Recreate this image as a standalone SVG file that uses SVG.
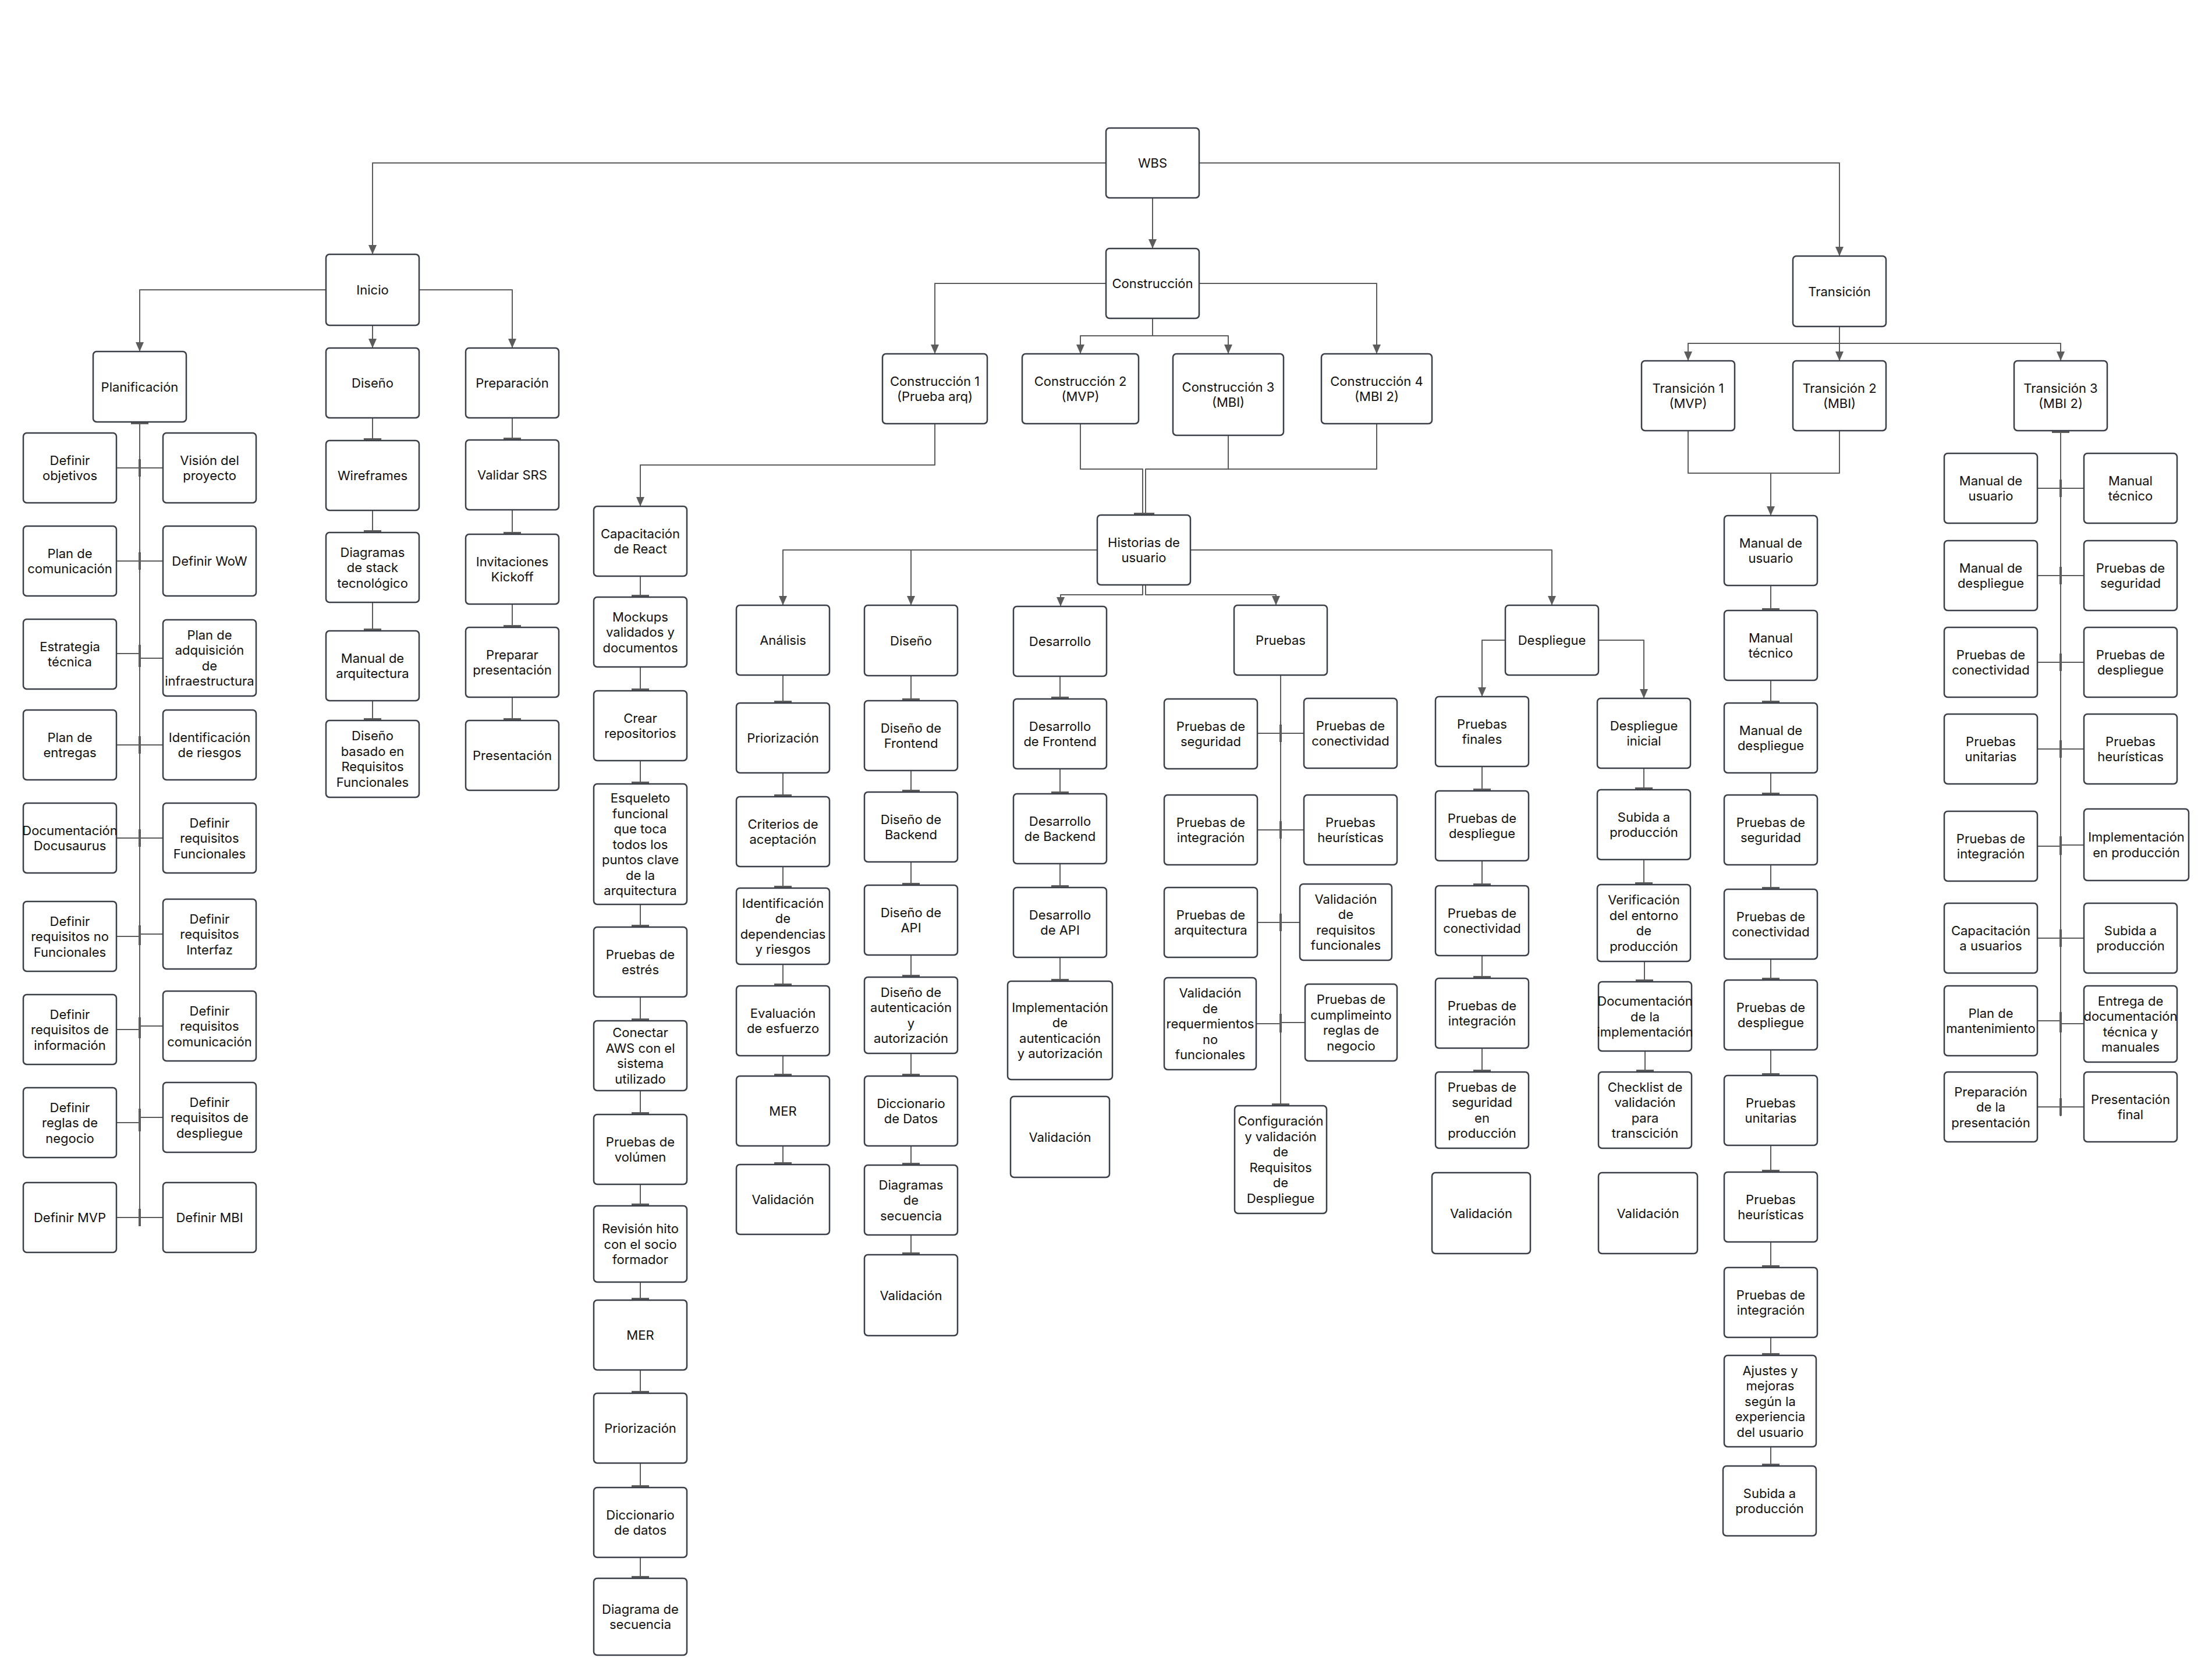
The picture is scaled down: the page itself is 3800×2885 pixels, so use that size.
<svg xmlns="http://www.w3.org/2000/svg" width="3800" height="2885" viewBox="0 0 3800 2885">
<defs>
<style>
.node rect{fill:#fff;stroke:#3a3f47;stroke-width:2.5}
.node text{font-family:Inter,"Liberation Sans",sans-serif;font-size:22px;fill:#111;text-anchor:middle}
.edge{fill:none;stroke:#5c5c5c;stroke-width:2;stroke-linejoin:round}
.arr{marker-end:url(#arrow)}
.tee{marker-end:url(#tee)}
</style>
<marker id="arrow" markerWidth="16" markerHeight="14" refX="16" refY="7" orient="auto" markerUnits="userSpaceOnUse"><path d="M0,0 L16,7 L0,14 z" fill="#5c5c5c"/></marker>
<marker id="tee" markerWidth="4" markerHeight="30" refX="2" refY="15" orient="auto" markerUnits="userSpaceOnUse"><rect x="0" y="0" width="4" height="30" fill="#5c5c5c"/></marker>
</defs>
<rect width="3800" height="2885" fill="#fff"/>
<g id="connectors">
<path class="edge arr" d="M1900,280 H640 V437"/>
<path class="edge arr" d="M1980,340 V427"/>
<path class="edge arr" d="M2060,280 H3160 V440"/>
<path class="edge arr" d="M560,498 H240 V604"/>
<path class="edge arr" d="M640,559 V598"/>
<path class="edge arr" d="M720,498 H880 V598"/>
<path class="edge tee" d="M240,2106 V727"/>
<path class="edge tee" d="M200,804 H240"/><path class="edge tee" d="M280,804 H240"/>
<path class="edge tee" d="M200,964 H240"/><path class="edge tee" d="M280,964 H240"/>
<path class="edge tee" d="M200,1123 H240"/><path class="edge tee" d="M280,1131 H240"/>
<path class="edge tee" d="M200,1280 H240"/><path class="edge tee" d="M280,1280 H240"/>
<path class="edge tee" d="M200,1440 H240"/><path class="edge tee" d="M280,1440 H240"/>
<path class="edge tee" d="M200,1609 H240"/><path class="edge tee" d="M280,1605 H240"/>
<path class="edge tee" d="M200,1769 H240"/><path class="edge tee" d="M280,1763 H240"/>
<path class="edge tee" d="M200,1929 H240"/><path class="edge tee" d="M280,1920 H240"/>
<path class="edge tee" d="M200,2092 H240"/><path class="edge tee" d="M280,2092 H240"/>
<path class="edge tee" d="M640,718 V755"/><path class="edge tee" d="M640,876 V913"/><path class="edge tee" d="M640,1035 V1082"/><path class="edge tee" d="M640,1204 V1236"/>
<path class="edge tee" d="M880,718 V754"/><path class="edge tee" d="M880,876 V916"/><path class="edge tee" d="M880,1038 V1076"/><path class="edge tee" d="M880,1198 V1236"/>
<path class="edge arr" d="M1900,487 H1606 V608"/>
<path class="edge arr" d="M1980,547 V577 H1856 V608"/>
<path class="edge arr" d="M1980,577 H2110 V608"/>
<path class="edge arr" d="M2060,487 H2365 V608"/>
<path class="edge arr" d="M1606,728 V799 H1100 V870"/>
<path class="edge tee" d="M1100,990 V1024"/><path class="edge tee" d="M1100,1146 V1185"/><path class="edge tee" d="M1100,1307 V1345"/><path class="edge tee" d="M1100,1554 V1591"/><path class="edge tee" d="M1100,1713 V1752"/><path class="edge tee" d="M1100,1874 V1913"/><path class="edge tee" d="M1100,2035 V2070"/><path class="edge tee" d="M1100,2203 V2232"/><path class="edge tee" d="M1100,2354 V2392"/><path class="edge tee" d="M1100,2514 V2554"/><path class="edge tee" d="M1100,2676 V2710"/>
<path class="edge tee" d="M1856,728 V806 H1963 V883"/>
<path class="edge tee" d="M2110,748 V806 H1968 V883"/>
<path class="edge" d="M2365,728 V806 H2110"/>
<path class="edge arr" d="M1885,945 H1345 V1040"/>
<path class="edge arr" d="M1565,945 V1040"/>
<path class="edge arr" d="M2045,945 H2666 V1040"/>
<path class="edge arr" d="M1963,1005 V1022 H1822 V1042"/>
<path class="edge arr" d="M1968,1005 V1022 H2192 V1040"/>
<path class="edge tee" d="M1345,1160 V1206"/><path class="edge tee" d="M1345,1328 V1367"/><path class="edge tee" d="M1345,1489 V1524"/><path class="edge tee" d="M1345,1657 V1692"/><path class="edge tee" d="M1345,1814 V1847"/><path class="edge tee" d="M1345,1969 V1999"/>
<path class="edge tee" d="M1565,1161 V1202"/><path class="edge tee" d="M1565,1324 V1359"/><path class="edge tee" d="M1565,1481 V1519"/><path class="edge tee" d="M1565,1641 V1677"/><path class="edge tee" d="M1565,1810 V1847"/><path class="edge tee" d="M1565,1969 V2000"/><path class="edge tee" d="M1565,2122 V2154"/>
<path class="edge tee" d="M1821,1162 V1199"/><path class="edge tee" d="M1821,1321 V1362"/><path class="edge tee" d="M1821,1484 V1523"/><path class="edge tee" d="M1821,1645 V1684"/>
<path class="edge tee" d="M2200,1160 V1898"/>
<path class="edge tee" d="M2160,1260 H2200"/><path class="edge tee" d="M2240,1260 H2200"/>
<path class="edge tee" d="M2160,1426 H2200"/><path class="edge tee" d="M2240,1426 H2200"/>
<path class="edge tee" d="M2160,1585 H2200"/><path class="edge tee" d="M2233,1585 H2200"/>
<path class="edge tee" d="M2158,1759 H2200"/><path class="edge tee" d="M2242,1757 H2200"/>
<path class="edge arr" d="M2586,1100 H2546 V1197"/>
<path class="edge arr" d="M2746,1100 H2824 V1200"/>
<path class="edge tee" d="M2546,1317 V1357"/><path class="edge tee" d="M2546,1479 V1520"/><path class="edge tee" d="M2546,1642 V1679"/><path class="edge tee" d="M2546,1801 V1840"/>
<path class="edge tee" d="M2824,1320 V1355"/><path class="edge tee" d="M2824,1477 V1518"/><path class="edge tee" d="M2825,1652 V1685"/><path class="edge tee" d="M2826,1806 V1840"/>
<path class="edge arr" d="M3160,561 V590 H2900 V620"/>
<path class="edge arr" d="M3160,590 V620"/>
<path class="edge arr" d="M3160,590 H3540 V620"/>
<path class="edge arr" d="M2900,740 V813 H3042 V886"/>
<path class="edge" d="M3160,740 V813 H3042"/>
<path class="edge tee" d="M3042,1006 V1047"/><path class="edge tee" d="M3042,1169 V1206"/><path class="edge tee" d="M3042,1328 V1364"/><path class="edge tee" d="M3042,1486 V1526"/><path class="edge tee" d="M3042,1648 V1682"/><path class="edge tee" d="M3042,1804 V1846"/><path class="edge tee" d="M3042,1968 V2012"/><path class="edge tee" d="M3042,2134 V2176"/><path class="edge tee" d="M3042,2298 V2327"/><path class="edge tee" d="M3042,2486 V2517"/>
<path class="edge tee" d="M3540,1918 V742"/>
<path class="edge tee" d="M3500,839 H3540"/><path class="edge tee" d="M3580,839 H3540"/>
<path class="edge tee" d="M3500,989 H3540"/><path class="edge tee" d="M3580,989 H3540"/>
<path class="edge tee" d="M3500,1138 H3540"/><path class="edge tee" d="M3580,1138 H3540"/>
<path class="edge tee" d="M3500,1287 H3540"/><path class="edge tee" d="M3580,1287 H3540"/>
<path class="edge tee" d="M3500,1454 H3540"/><path class="edge tee" d="M3580,1452 H3540"/>
<path class="edge tee" d="M3500,1612 H3540"/><path class="edge tee" d="M3580,1612 H3540"/>
<path class="edge tee" d="M3500,1754 H3540"/><path class="edge tee" d="M3580,1759 H3540"/>
<path class="edge tee" d="M3500,1902 H3540"/><path class="edge tee" d="M3580,1902 H3540"/>
</g>
<g id="n-wbs" class="node"><rect x="1900" y="220" width="160" height="120" rx="6"/><text><tspan x="1980" y="288">WBS</tspan></text></g>
<g id="n-inicio" class="node"><rect x="560" y="437" width="160" height="122" rx="6"/><text><tspan x="640" y="506">Inicio</tspan></text></g>
<g id="n-construccion" class="node"><rect x="1900" y="427" width="160" height="120" rx="6"/><text><tspan x="1980" y="495">Construcción</tspan></text></g>
<g id="n-transicion" class="node"><rect x="3080" y="440" width="160" height="121" rx="6"/><text><tspan x="3160" y="508.5">Transición</tspan></text></g>
<g id="n-planificacion" class="node"><rect x="160" y="604" width="160" height="121" rx="6"/><text><tspan x="240" y="672.5">Planificación</tspan></text></g>
<g id="n-diseno-inicio" class="node"><rect x="560" y="598" width="160" height="120" rx="6"/><text><tspan x="640" y="666">Diseño</tspan></text></g>
<g id="n-preparacion" class="node"><rect x="800" y="598" width="160" height="120" rx="6"/><text><tspan x="880" y="666">Preparación</tspan></text></g>
<g id="n-p1" class="node"><rect x="40" y="744" width="160" height="120" rx="6"/><text><tspan x="120" y="798.8">Definir</tspan><tspan x="120" y="825.3">objetivos</tspan></text></g>
<g id="n-p2" class="node"><rect x="280" y="744" width="160" height="120" rx="6"/><text><tspan x="360" y="798.8">Visión del</tspan><tspan x="360" y="825.3">proyecto</tspan></text></g>
<g id="n-p3" class="node"><rect x="40" y="904" width="160" height="120" rx="6"/><text><tspan x="120" y="958.8">Plan de</tspan><tspan x="120" y="985.3">comunicación</tspan></text></g>
<g id="n-p4" class="node"><rect x="280" y="904" width="160" height="120" rx="6"/><text><tspan x="360" y="972">Definir WoW</tspan></text></g>
<g id="n-p5" class="node"><rect x="40" y="1064" width="160" height="120" rx="6"/><text><tspan x="120" y="1118.8">Estrategia</tspan><tspan x="120" y="1145.3">técnica</tspan></text></g>
<g id="n-p6" class="node"><rect x="280" y="1065" width="160" height="131" rx="6"/><text><tspan x="360" y="1098.8">Plan de</tspan><tspan x="360" y="1125.3">adquisición</tspan><tspan x="360" y="1151.8">de</tspan><tspan x="360" y="1178.3">infraestructura</tspan></text></g>
<g id="n-p7" class="node"><rect x="40" y="1220" width="160" height="120" rx="6"/><text><tspan x="120" y="1274.8">Plan de</tspan><tspan x="120" y="1301.3">entregas</tspan></text></g>
<g id="n-p8" class="node"><rect x="280" y="1220" width="160" height="120" rx="6"/><text><tspan x="360" y="1274.8">Identificación</tspan><tspan x="360" y="1301.3">de riesgos</tspan></text></g>
<g id="n-p9" class="node"><rect x="40" y="1380" width="160" height="120" rx="6"/><text><tspan x="120" y="1434.8">Documentación</tspan><tspan x="120" y="1461.3">Docusaurus</tspan></text></g>
<g id="n-p10" class="node"><rect x="280" y="1380" width="160" height="120" rx="6"/><text><tspan x="360" y="1421.5">Definir</tspan><tspan x="360" y="1448">requisitos</tspan><tspan x="360" y="1474.5">Funcionales</tspan></text></g>
<g id="n-p11" class="node"><rect x="40" y="1549" width="160" height="120" rx="6"/><text><tspan x="120" y="1590.5">Definir</tspan><tspan x="120" y="1617">requisitos no</tspan><tspan x="120" y="1643.5">Funcionales</tspan></text></g>
<g id="n-p12" class="node"><rect x="280" y="1545" width="160" height="120" rx="6"/><text><tspan x="360" y="1586.5">Definir</tspan><tspan x="360" y="1613">requisitos</tspan><tspan x="360" y="1639.5">Interfaz</tspan></text></g>
<g id="n-p13" class="node"><rect x="40" y="1709" width="160" height="120" rx="6"/><text><tspan x="120" y="1750.5">Definir</tspan><tspan x="120" y="1777">requisitos de</tspan><tspan x="120" y="1803.5">información</tspan></text></g>
<g id="n-p14" class="node"><rect x="280" y="1703" width="160" height="120" rx="6"/><text><tspan x="360" y="1744.5">Definir</tspan><tspan x="360" y="1771">requisitos</tspan><tspan x="360" y="1797.5">comunicación</tspan></text></g>
<g id="n-p15" class="node"><rect x="40" y="1869" width="160" height="120" rx="6"/><text><tspan x="120" y="1910.5">Definir</tspan><tspan x="120" y="1937">reglas de</tspan><tspan x="120" y="1963.5">negocio</tspan></text></g>
<g id="n-p16" class="node"><rect x="280" y="1860" width="160" height="120" rx="6"/><text><tspan x="360" y="1901.5">Definir</tspan><tspan x="360" y="1928">requisitos de</tspan><tspan x="360" y="1954.5">despliegue</tspan></text></g>
<g id="n-p17" class="node"><rect x="40" y="2032" width="160" height="120" rx="6"/><text><tspan x="120" y="2100">Definir MVP</tspan></text></g>
<g id="n-p18" class="node"><rect x="280" y="2032" width="160" height="120" rx="6"/><text><tspan x="360" y="2100">Definir MBI</tspan></text></g>
<g id="n-d1" class="node"><rect x="560" y="757" width="160" height="120" rx="6"/><text><tspan x="640" y="825">Wireframes</tspan></text></g>
<g id="n-d2" class="node"><rect x="560" y="915" width="160" height="120" rx="6"/><text><tspan x="640" y="956.5">Diagramas</tspan><tspan x="640" y="983">de stack</tspan><tspan x="640" y="1009.5">tecnológico</tspan></text></g>
<g id="n-d3" class="node"><rect x="560" y="1084" width="160" height="120" rx="6"/><text><tspan x="640" y="1138.8">Manual de</tspan><tspan x="640" y="1165.3">arquitectura</tspan></text></g>
<g id="n-d4" class="node"><rect x="560" y="1238" width="160" height="132" rx="6"/><text><tspan x="640" y="1272.3">Diseño</tspan><tspan x="640" y="1298.8">basado en</tspan><tspan x="640" y="1325.3">Requisitos</tspan><tspan x="640" y="1351.8">Funcionales</tspan></text></g>
<g id="n-r1" class="node"><rect x="800" y="756" width="160" height="120" rx="6"/><text><tspan x="880" y="824">Validar SRS</tspan></text></g>
<g id="n-r2" class="node"><rect x="800" y="918" width="160" height="120" rx="6"/><text><tspan x="880" y="972.8">Invitaciones</tspan><tspan x="880" y="999.3">Kickoff</tspan></text></g>
<g id="n-r3" class="node"><rect x="800" y="1078" width="160" height="120" rx="6"/><text><tspan x="880" y="1132.8">Preparar</tspan><tspan x="880" y="1159.3">presentación</tspan></text></g>
<g id="n-r4" class="node"><rect x="800" y="1238" width="160" height="120" rx="6"/><text><tspan x="880" y="1306">Presentación</tspan></text></g>
<g id="n-c1" class="node"><rect x="1516" y="608" width="180" height="120" rx="6"/><text><tspan x="1606" y="662.8">Construcción 1</tspan><tspan x="1606" y="689.3">(Prueba arq)</tspan></text></g>
<g id="n-c2" class="node"><rect x="1756" y="608" width="200" height="120" rx="6"/><text><tspan x="1856" y="662.8">Construcción 2</tspan><tspan x="1856" y="689.3">(MVP)</tspan></text></g>
<g id="n-c3" class="node"><rect x="2015" y="608" width="190" height="140" rx="6"/><text><tspan x="2110" y="672.8">Construcción 3</tspan><tspan x="2110" y="699.3">(MBI)</tspan></text></g>
<g id="n-c4" class="node"><rect x="2270" y="608" width="190" height="120" rx="6"/><text><tspan x="2365" y="662.8">Construcción 4</tspan><tspan x="2365" y="689.3">(MBI 2)</tspan></text></g>
<g id="n-k1" class="node"><rect x="1020" y="870" width="160" height="120" rx="6"/><text><tspan x="1100" y="924.8">Capacitación</tspan><tspan x="1100" y="951.3">de React</tspan></text></g>
<g id="n-k2" class="node"><rect x="1020" y="1026" width="160" height="120" rx="6"/><text><tspan x="1100" y="1067.5">Mockups</tspan><tspan x="1100" y="1094">validados y</tspan><tspan x="1100" y="1120.5">documentos</tspan></text></g>
<g id="n-k3" class="node"><rect x="1020" y="1187" width="160" height="120" rx="6"/><text><tspan x="1100" y="1241.8">Crear</tspan><tspan x="1100" y="1268.3">repositorios</tspan></text></g>
<g id="n-k4" class="node"><rect x="1020" y="1347" width="160" height="207" rx="6"/><text><tspan x="1100" y="1379">Esqueleto</tspan><tspan x="1100" y="1405.5">funcional</tspan><tspan x="1100" y="1432">que toca</tspan><tspan x="1100" y="1458.5">todos los</tspan><tspan x="1100" y="1485">puntos clave</tspan><tspan x="1100" y="1511.5">de la</tspan><tspan x="1100" y="1538">arquitectura</tspan></text></g>
<g id="n-k5" class="node"><rect x="1020" y="1593" width="160" height="120" rx="6"/><text><tspan x="1100" y="1647.8">Pruebas de</tspan><tspan x="1100" y="1674.3">estrés</tspan></text></g>
<g id="n-k6" class="node"><rect x="1020" y="1754" width="160" height="120" rx="6"/><text><tspan x="1100" y="1782.3">Conectar</tspan><tspan x="1100" y="1808.8">AWS con el</tspan><tspan x="1100" y="1835.3">sistema</tspan><tspan x="1100" y="1861.8">utilizado</tspan></text></g>
<g id="n-k7" class="node"><rect x="1020" y="1915" width="160" height="120" rx="6"/><text><tspan x="1100" y="1969.8">Pruebas de</tspan><tspan x="1100" y="1996.3">volúmen</tspan></text></g>
<g id="n-k8" class="node"><rect x="1020" y="2072" width="160" height="131" rx="6"/><text><tspan x="1100" y="2119">Revisión hito</tspan><tspan x="1100" y="2145.5">con el socio</tspan><tspan x="1100" y="2172">formador</tspan></text></g>
<g id="n-k9" class="node"><rect x="1020" y="2234" width="160" height="120" rx="6"/><text><tspan x="1100" y="2302">MER</tspan></text></g>
<g id="n-k10" class="node"><rect x="1020" y="2394" width="160" height="120" rx="6"/><text><tspan x="1100" y="2462">Priorización</tspan></text></g>
<g id="n-k11" class="node"><rect x="1020" y="2556" width="160" height="120" rx="6"/><text><tspan x="1100" y="2610.8">Diccionario</tspan><tspan x="1100" y="2637.3">de datos</tspan></text></g>
<g id="n-k12" class="node"><rect x="1020" y="2712" width="160" height="132" rx="6"/><text><tspan x="1100" y="2772.8">Diagrama de</tspan><tspan x="1100" y="2799.3">secuencia</tspan></text></g>
<g id="n-historias" class="node"><rect x="1885" y="885" width="160" height="120" rx="6"/><text><tspan x="1965" y="939.8">Historias de</tspan><tspan x="1965" y="966.3">usuario</tspan></text></g>
<g id="n-analisis" class="node"><rect x="1265" y="1040" width="160" height="120" rx="6"/><text><tspan x="1345" y="1108">Análisis</tspan></text></g>
<g id="n-a1" class="node"><rect x="1265" y="1208" width="160" height="120" rx="6"/><text><tspan x="1345" y="1276">Priorización</tspan></text></g>
<g id="n-a2" class="node"><rect x="1265" y="1369" width="160" height="120" rx="6"/><text><tspan x="1345" y="1423.8">Criterios de</tspan><tspan x="1345" y="1450.3">aceptación</tspan></text></g>
<g id="n-a3" class="node"><rect x="1265" y="1526" width="160" height="131" rx="6"/><text><tspan x="1345" y="1559.8">Identificación</tspan><tspan x="1345" y="1586.3">de</tspan><tspan x="1345" y="1612.8">dependencias</tspan><tspan x="1345" y="1639.3">y riesgos</tspan></text></g>
<g id="n-a4" class="node"><rect x="1265" y="1694" width="160" height="120" rx="6"/><text><tspan x="1345" y="1748.8">Evaluación</tspan><tspan x="1345" y="1775.3">de esfuerzo</tspan></text></g>
<g id="n-a5" class="node"><rect x="1265" y="1849" width="160" height="120" rx="6"/><text><tspan x="1345" y="1917">MER</tspan></text></g>
<g id="n-a6" class="node"><rect x="1265" y="2001" width="160" height="120" rx="6"/><text><tspan x="1345" y="2069">Validación</tspan></text></g>
<g id="n-diseno" class="node"><rect x="1485" y="1040" width="160" height="121" rx="6"/><text><tspan x="1565" y="1108.5">Diseño</tspan></text></g>
<g id="n-s1" class="node"><rect x="1485" y="1204" width="160" height="120" rx="6"/><text><tspan x="1565" y="1258.8">Diseño de</tspan><tspan x="1565" y="1285.3">Frontend</tspan></text></g>
<g id="n-s2" class="node"><rect x="1485" y="1361" width="160" height="120" rx="6"/><text><tspan x="1565" y="1415.8">Diseño de</tspan><tspan x="1565" y="1442.3">Backend</tspan></text></g>
<g id="n-s3" class="node"><rect x="1485" y="1521" width="160" height="120" rx="6"/><text><tspan x="1565" y="1575.8">Diseño de</tspan><tspan x="1565" y="1602.3">API</tspan></text></g>
<g id="n-s4" class="node"><rect x="1485" y="1679" width="160" height="131" rx="6"/><text><tspan x="1565" y="1712.8">Diseño de</tspan><tspan x="1565" y="1739.3">autenticación</tspan><tspan x="1565" y="1765.8">y</tspan><tspan x="1565" y="1792.3">autorización</tspan></text></g>
<g id="n-s5" class="node"><rect x="1485" y="1849" width="160" height="120" rx="6"/><text><tspan x="1565" y="1903.8">Diccionario</tspan><tspan x="1565" y="1930.3">de Datos</tspan></text></g>
<g id="n-s6" class="node"><rect x="1485" y="2002" width="160" height="120" rx="6"/><text><tspan x="1565" y="2043.5">Diagramas</tspan><tspan x="1565" y="2070">de</tspan><tspan x="1565" y="2096.5">secuencia</tspan></text></g>
<g id="n-s7" class="node"><rect x="1485" y="2156" width="160" height="139" rx="6"/><text><tspan x="1565" y="2233.5">Validación</tspan></text></g>
<g id="n-desarrollo" class="node"><rect x="1741" y="1042" width="160" height="120" rx="6"/><text><tspan x="1821" y="1110">Desarrollo</tspan></text></g>
<g id="n-v1" class="node"><rect x="1741" y="1201" width="160" height="120" rx="6"/><text><tspan x="1821" y="1255.8">Desarrollo</tspan><tspan x="1821" y="1282.3">de Frontend</tspan></text></g>
<g id="n-v2" class="node"><rect x="1741" y="1364" width="160" height="120" rx="6"/><text><tspan x="1821" y="1418.8">Desarrollo</tspan><tspan x="1821" y="1445.3">de Backend</tspan></text></g>
<g id="n-v3" class="node"><rect x="1741" y="1525" width="160" height="120" rx="6"/><text><tspan x="1821" y="1579.8">Desarrollo</tspan><tspan x="1821" y="1606.3">de API</tspan></text></g>
<g id="n-v4" class="node"><rect x="1731" y="1686" width="180" height="169" rx="6"/><text><tspan x="1821" y="1738.8">Implementación</tspan><tspan x="1821" y="1765.3">de</tspan><tspan x="1821" y="1791.8">autenticación</tspan><tspan x="1821" y="1818.3">y autorización</tspan></text></g>
<g id="n-v5" class="node"><rect x="1736" y="1884" width="170" height="139" rx="6"/><text><tspan x="1821" y="1961.5">Validación</tspan></text></g>
<g id="n-pruebas" class="node"><rect x="2120" y="1040" width="160" height="120" rx="6"/><text><tspan x="2200" y="1108">Pruebas</tspan></text></g>
<g id="n-t1" class="node"><rect x="2000" y="1201" width="160" height="120" rx="6"/><text><tspan x="2080" y="1255.8">Pruebas de</tspan><tspan x="2080" y="1282.3">seguridad</tspan></text></g>
<g id="n-t2" class="node"><rect x="2240" y="1200" width="160" height="120" rx="6"/><text><tspan x="2320" y="1254.8">Pruebas de</tspan><tspan x="2320" y="1281.3">conectividad</tspan></text></g>
<g id="n-t3" class="node"><rect x="2000" y="1366" width="160" height="120" rx="6"/><text><tspan x="2080" y="1420.8">Pruebas de</tspan><tspan x="2080" y="1447.3">integración</tspan></text></g>
<g id="n-t4" class="node"><rect x="2240" y="1366" width="160" height="120" rx="6"/><text><tspan x="2320" y="1420.8">Pruebas</tspan><tspan x="2320" y="1447.3">heurísticas</tspan></text></g>
<g id="n-t5" class="node"><rect x="2000" y="1525" width="160" height="120" rx="6"/><text><tspan x="2080" y="1579.8">Pruebas de</tspan><tspan x="2080" y="1606.3">arquitectura</tspan></text></g>
<g id="n-t6" class="node"><rect x="2233" y="1519" width="158" height="131" rx="6"/><text><tspan x="2312" y="1552.8">Validación</tspan><tspan x="2312" y="1579.3">de</tspan><tspan x="2312" y="1605.8">requisitos</tspan><tspan x="2312" y="1632.3">funcionales</tspan></text></g>
<g id="n-t7" class="node"><rect x="2000" y="1680" width="158" height="158" rx="6"/><text><tspan x="2079" y="1714">Validación</tspan><tspan x="2079" y="1740.5">de</tspan><tspan x="2079" y="1767">requermientos</tspan><tspan x="2079" y="1793.5">no</tspan><tspan x="2079" y="1820">funcionales</tspan></text></g>
<g id="n-t8" class="node"><rect x="2242" y="1691" width="158" height="132" rx="6"/><text><tspan x="2321" y="1725.3">Pruebas de</tspan><tspan x="2321" y="1751.8">cumplimeinto</tspan><tspan x="2321" y="1778.3">reglas de</tspan><tspan x="2321" y="1804.8">negocio</tspan></text></g>
<g id="n-t9" class="node"><rect x="2121" y="1900" width="158" height="185" rx="6"/><text><tspan x="2200" y="1934.3">Configuración</tspan><tspan x="2200" y="1960.8">y validación</tspan><tspan x="2200" y="1987.3">de</tspan><tspan x="2200" y="2013.8">Requisitos</tspan><tspan x="2200" y="2040.3">de</tspan><tspan x="2200" y="2066.8">Despliegue</tspan></text></g>
<g id="n-despliegue" class="node"><rect x="2586" y="1040" width="160" height="120" rx="6"/><text><tspan x="2666" y="1108">Despliegue</tspan></text></g>
<g id="n-e1" class="node"><rect x="2466" y="1197" width="160" height="120" rx="6"/><text><tspan x="2546" y="1251.8">Pruebas</tspan><tspan x="2546" y="1278.3">finales</tspan></text></g>
<g id="n-e2" class="node"><rect x="2466" y="1359" width="160" height="120" rx="6"/><text><tspan x="2546" y="1413.8">Pruebas de</tspan><tspan x="2546" y="1440.3">despliegue</tspan></text></g>
<g id="n-e3" class="node"><rect x="2466" y="1522" width="160" height="120" rx="6"/><text><tspan x="2546" y="1576.8">Pruebas de</tspan><tspan x="2546" y="1603.3">conectividad</tspan></text></g>
<g id="n-e4" class="node"><rect x="2466" y="1681" width="160" height="120" rx="6"/><text><tspan x="2546" y="1735.8">Pruebas de</tspan><tspan x="2546" y="1762.3">integración</tspan></text></g>
<g id="n-e5" class="node"><rect x="2466" y="1842" width="160" height="131" rx="6"/><text><tspan x="2546" y="1875.8">Pruebas de</tspan><tspan x="2546" y="1902.3">seguridad</tspan><tspan x="2546" y="1928.8">en</tspan><tspan x="2546" y="1955.3">producción</tspan></text></g>
<g id="n-e6" class="node"><rect x="2460" y="2015" width="169" height="139" rx="6"/><text><tspan x="2544.5" y="2092.5">Validación</tspan></text></g>
<g id="n-f1" class="node"><rect x="2744" y="1200" width="160" height="120" rx="6"/><text><tspan x="2824" y="1254.8">Despliegue</tspan><tspan x="2824" y="1281.3">inicial</tspan></text></g>
<g id="n-f2" class="node"><rect x="2744" y="1357" width="160" height="120" rx="6"/><text><tspan x="2824" y="1411.8">Subida a</tspan><tspan x="2824" y="1438.3">producción</tspan></text></g>
<g id="n-f3" class="node"><rect x="2744" y="1520" width="160" height="132" rx="6"/><text><tspan x="2824" y="1554.3">Verificación</tspan><tspan x="2824" y="1580.8">del entorno</tspan><tspan x="2824" y="1607.3">de</tspan><tspan x="2824" y="1633.8">producción</tspan></text></g>
<g id="n-f4" class="node"><rect x="2746" y="1687" width="160" height="119" rx="6"/><text><tspan x="2826" y="1728">Documentación</tspan><tspan x="2826" y="1754.5">de la</tspan><tspan x="2826" y="1781">implementación</tspan></text></g>
<g id="n-f5" class="node"><rect x="2746" y="1842" width="160" height="131" rx="6"/><text><tspan x="2826" y="1875.8">Checklist de</tspan><tspan x="2826" y="1902.3">validación</tspan><tspan x="2826" y="1928.8">para</tspan><tspan x="2826" y="1955.3">transcición</tspan></text></g>
<g id="n-f6" class="node"><rect x="2746" y="2015" width="170" height="139" rx="6"/><text><tspan x="2831" y="2092.5">Validación</tspan></text></g>
<g id="n-tr1" class="node"><rect x="2820" y="620" width="160" height="120" rx="6"/><text><tspan x="2900" y="674.8">Transición 1</tspan><tspan x="2900" y="701.3">(MVP)</tspan></text></g>
<g id="n-tr2" class="node"><rect x="3080" y="620" width="160" height="120" rx="6"/><text><tspan x="3160" y="674.8">Transición 2</tspan><tspan x="3160" y="701.3">(MBI)</tspan></text></g>
<g id="n-tr3" class="node"><rect x="3460" y="620" width="160" height="120" rx="6"/><text><tspan x="3540" y="674.8">Transición 3</tspan><tspan x="3540" y="701.3">(MBI 2)</tspan></text></g>
<g id="n-m1" class="node"><rect x="2962" y="886" width="160" height="120" rx="6"/><text><tspan x="3042" y="940.8">Manual de</tspan><tspan x="3042" y="967.3">usuario</tspan></text></g>
<g id="n-m2" class="node"><rect x="2962" y="1049" width="160" height="120" rx="6"/><text><tspan x="3042" y="1103.8">Manual</tspan><tspan x="3042" y="1130.3">técnico</tspan></text></g>
<g id="n-m3" class="node"><rect x="2962" y="1208" width="160" height="120" rx="6"/><text><tspan x="3042" y="1262.8">Manual de</tspan><tspan x="3042" y="1289.3">despliegue</tspan></text></g>
<g id="n-m4" class="node"><rect x="2962" y="1366" width="160" height="120" rx="6"/><text><tspan x="3042" y="1420.8">Pruebas de</tspan><tspan x="3042" y="1447.3">seguridad</tspan></text></g>
<g id="n-m5" class="node"><rect x="2962" y="1528" width="160" height="120" rx="6"/><text><tspan x="3042" y="1582.8">Pruebas de</tspan><tspan x="3042" y="1609.3">conectividad</tspan></text></g>
<g id="n-m6" class="node"><rect x="2962" y="1684" width="160" height="120" rx="6"/><text><tspan x="3042" y="1738.8">Pruebas de</tspan><tspan x="3042" y="1765.3">despliegue</tspan></text></g>
<g id="n-m7" class="node"><rect x="2962" y="1848" width="160" height="120" rx="6"/><text><tspan x="3042" y="1902.8">Pruebas</tspan><tspan x="3042" y="1929.3">unitarias</tspan></text></g>
<g id="n-m8" class="node"><rect x="2962" y="2014" width="160" height="120" rx="6"/><text><tspan x="3042" y="2068.8">Pruebas</tspan><tspan x="3042" y="2095.3">heurísticas</tspan></text></g>
<g id="n-m9" class="node"><rect x="2962" y="2178" width="160" height="120" rx="6"/><text><tspan x="3042" y="2232.8">Pruebas de</tspan><tspan x="3042" y="2259.3">integración</tspan></text></g>
<g id="n-m10" class="node"><rect x="2962" y="2329" width="158" height="157" rx="6"/><text><tspan x="3041" y="2362.5">Ajustes y</tspan><tspan x="3041" y="2389">mejoras</tspan><tspan x="3041" y="2415.5">según la</tspan><tspan x="3041" y="2442">experiencia</tspan><tspan x="3041" y="2468.5">del usuario</tspan></text></g>
<g id="n-m11" class="node"><rect x="2960" y="2519" width="160" height="120" rx="6"/><text><tspan x="3040" y="2573.8">Subida a</tspan><tspan x="3040" y="2600.3">producción</tspan></text></g>
<g id="n-q1" class="node"><rect x="3340" y="779" width="160" height="120" rx="6"/><text><tspan x="3420" y="833.8">Manual de</tspan><tspan x="3420" y="860.3">usuario</tspan></text></g>
<g id="n-q2" class="node"><rect x="3580" y="779" width="160" height="120" rx="6"/><text><tspan x="3660" y="833.8">Manual</tspan><tspan x="3660" y="860.3">técnico</tspan></text></g>
<g id="n-q3" class="node"><rect x="3340" y="929" width="160" height="120" rx="6"/><text><tspan x="3420" y="983.8">Manual de</tspan><tspan x="3420" y="1010.3">despliegue</tspan></text></g>
<g id="n-q4" class="node"><rect x="3580" y="929" width="160" height="120" rx="6"/><text><tspan x="3660" y="983.8">Pruebas de</tspan><tspan x="3660" y="1010.3">seguridad</tspan></text></g>
<g id="n-q5" class="node"><rect x="3340" y="1078" width="160" height="120" rx="6"/><text><tspan x="3420" y="1132.8">Pruebas de</tspan><tspan x="3420" y="1159.3">conectividad</tspan></text></g>
<g id="n-q6" class="node"><rect x="3580" y="1078" width="160" height="120" rx="6"/><text><tspan x="3660" y="1132.8">Pruebas de</tspan><tspan x="3660" y="1159.3">despliegue</tspan></text></g>
<g id="n-q7" class="node"><rect x="3340" y="1227" width="160" height="120" rx="6"/><text><tspan x="3420" y="1281.8">Pruebas</tspan><tspan x="3420" y="1308.3">unitarias</tspan></text></g>
<g id="n-q8" class="node"><rect x="3580" y="1227" width="160" height="120" rx="6"/><text><tspan x="3660" y="1281.8">Pruebas</tspan><tspan x="3660" y="1308.3">heurísticas</tspan></text></g>
<g id="n-q9" class="node"><rect x="3340" y="1394" width="160" height="120" rx="6"/><text><tspan x="3420" y="1448.8">Pruebas de</tspan><tspan x="3420" y="1475.3">integración</tspan></text></g>
<g id="n-q10" class="node"><rect x="3580" y="1390" width="180" height="123" rx="6"/><text><tspan x="3670" y="1446.3">Implementación</tspan><tspan x="3670" y="1472.8">en producción</tspan></text></g>
<g id="n-q11" class="node"><rect x="3340" y="1552" width="160" height="120" rx="6"/><text><tspan x="3420" y="1606.8">Capacitación</tspan><tspan x="3420" y="1633.3">a usuarios</tspan></text></g>
<g id="n-q12" class="node"><rect x="3580" y="1552" width="160" height="120" rx="6"/><text><tspan x="3660" y="1606.8">Subida a</tspan><tspan x="3660" y="1633.3">producción</tspan></text></g>
<g id="n-q13" class="node"><rect x="3340" y="1694" width="160" height="120" rx="6"/><text><tspan x="3420" y="1748.8">Plan de</tspan><tspan x="3420" y="1775.3">mantenimiento</tspan></text></g>
<g id="n-q14" class="node"><rect x="3580" y="1694" width="160" height="131" rx="6"/><text><tspan x="3660" y="1727.8">Entrega de</tspan><tspan x="3660" y="1754.3">documentación</tspan><tspan x="3660" y="1780.8">técnica y</tspan><tspan x="3660" y="1807.3">manuales</tspan></text></g>
<g id="n-q15" class="node"><rect x="3340" y="1842" width="160" height="120" rx="6"/><text><tspan x="3420" y="1883.5">Preparación</tspan><tspan x="3420" y="1910">de la</tspan><tspan x="3420" y="1936.5">presentación</tspan></text></g>
<g id="n-q16" class="node"><rect x="3580" y="1842" width="160" height="120" rx="6"/><text><tspan x="3660" y="1896.8">Presentación</tspan><tspan x="3660" y="1923.3">final</tspan></text></g>
</svg>
